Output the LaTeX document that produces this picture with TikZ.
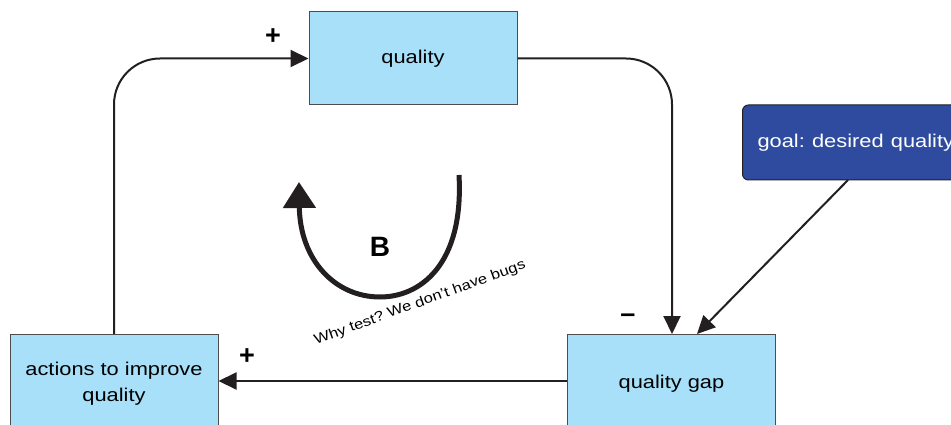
\documentclass[tikz,border=0pt]{standalone}
\usepackage{fontspec}
\setmainfont{Liberation Sans}
\frenchspacing
\usetikzlibrary{arrows.meta}
\definecolor{boxfill}{HTML}{A8E0F9}
\definecolor{goalfill}{HTML}{2E4BA0}
\definecolor{lineclr}{HTML}{231F20}
\newcommand{\wtxt}[1]{\scalebox{1.18}[1]{#1}}
\begin{document}
\begin{tikzpicture}[x=1pt,y=-1pt,
  box/.style={draw=lineclr!80,line width=1pt,fill=boxfill,minimum width=208pt,minimum height=93pt,inner sep=0pt,align=center,font=\fontsize{18.5}{26}\selectfont},
  link/.style={draw=lineclr,line width=2pt,-{Triangle[length=18pt,width=17pt]}},
  pol/.style={font=\bfseries\fontsize{27}{27}\selectfont}]
\useasboundingbox (0,0) rectangle (951,425);
\node[box] (q) at (413,58.5) {\wtxt{quality}};
\node[box,minimum height=100pt] (gap) at (671.5,384) {\wtxt{quality gap}};
\node[box,minimum height=100pt] (act) at (114,384) {\wtxt{actions to improve}\\\wtxt{quality}};
\node[draw=lineclr,line width=1pt,fill=goalfill,rounded corners=6pt,minimum width=240pt,minimum height=75pt,anchor=west,text=white,font=\fontsize{18.5}{22}\selectfont,inner sep=0pt,align=left,text width=230pt] (goal) at (742,142.5) {\hspace{10pt}\wtxt{goal: desired quality}};
\coordinate (gapin1) at (672,334);
\coordinate (gapin2) at (697,334);
\coordinate (goalout) at (848,180);
\coordinate (actout) at (114,334);
\draw[link,rounded corners=46pt] (q.east) -| (gapin1);
\draw[link] (goalout) -- (gapin2);
\draw[link] (gap.west |- 0,381) -- (act.east |- 0,381);
\draw[link,rounded corners=46pt] (actout) |- (q.west);
\node[pol] (p1) at (273,37) {+};
\node[pol] (p2) at (247,357) {+};
\node[pol] (m1) at (628,318) {–};
\coordinate (lstart) at (459,175);
\coordinate (lend) at (299,182);
\draw[draw=lineclr,line width=5pt,-{Triangle[length=26pt,width=32pt]}] (lstart) .. controls (464,265) and (420,297) .. (380,297) .. controls (335,297) and (300,260) .. (lend);
\node[font=\bfseries\fontsize{28}{28}\selectfont] (B) at (380,247) {B};
\node[rotate=20,font=\fontsize{14}{14}\selectfont] (why) at (420,303) {\wtxt{Why test? We don’t have bugs}};
\end{tikzpicture}
\end{document}
